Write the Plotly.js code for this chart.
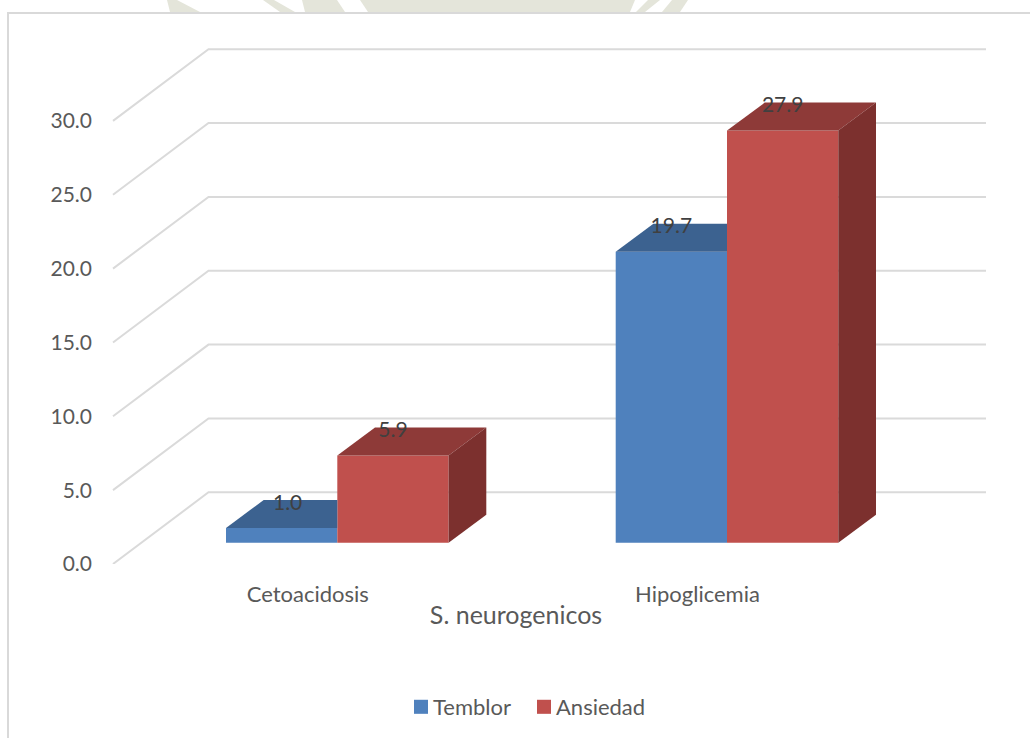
<!DOCTYPE html>
<html>
<head>
<meta charset="utf-8">
<script src="https://cdn.plot.ly/plotly-3.0.1.min.js"></script>
<style>html,body{margin:0;padding:0;background:#fff}</style>
</head>
<body>
<div id="chart" style="width:1030px;height:738px"></div>
<script>
// Survey results
const categories = ["Cetoacidosis", "Hipoglicemia"];
const temblor = [1.0, 19.7];
const ansiedad = [5.9, 27.9];
const yTicks = [0, 5, 10, 15, 20, 25, 30];

// Page geometry, in pixels
const W = 1030, H = 738;
const plotL = 46, plotR = 986, plotT = 40, plotB = 564;
const axisX = 113;
const pxPerValue = 14.77, pxPerCategory = 389.7, firstCategoryX = 337.3;

// Oblique projection of the box: wall depth and column depth, in axis units
const wallDX = 95.5 / pxPerCategory, wallDY = 71.7 / pxPerValue;
const barDX = 37.7 / pxPerCategory, barDY = 28 / pxPerValue;
const floorY = 21.3 / pxPerValue;
const barW = 111.3 / pxPerCategory;
const categoryLabelShift = -29.5 / pxPerCategory;
const labelDrop = 4.5 / pxPerValue;
const shortBarLabelShift = 6 / pxPerCategory;

const xLeft = (axisX - firstCategoryX) / pxPerCategory;
const xRight = (plotR - firstCategoryX) / pxPerCategory;
const idx = categories.map((_, i) => i);

// Front faces
const traces = [{
  type: "bar", name: "Temblor", x: idx, y: temblor, base: floorY,
  width: barW, offset: -barW, marker: {color: "#4f81bd", line: {width: 0}}
}, {
  type: "bar", name: "Ansiedad", x: idx, y: ansiedad, base: floorY,
  width: barW, offset: 0, marker: {color: "#c0504d", line: {width: 0}}
}];

function face(xs, ys, color) {
  traces.push({
    type: "scatter", mode: "lines", x: xs, y: ys, fill: "toself", fillcolor: color,
    line: {width: 0, color: color}, showlegend: false, hoverinfo: "skip"
  });
}
// Top and side faces; the left column's top stops at the right column's front
idx.forEach(i => {
  const top = temblor[i] + floorY, x0 = i - barW;
  face([x0, x0 + barDX, i, i], [top, top + barDY, top + barDY, top], "#3c6290");
});
idx.forEach(i => {
  const top = ansiedad[i] + floorY, x0 = i, x1 = i + barW;
  face([x0, x0 + barDX, x1 + barDX, x1], [top, top + barDY, top + barDY, top], "#8e3a38");
  face([x1, x1 + barDX, x1 + barDX, x1],
       [top, top + barDY, floorY + barDY, floorY], "#7c302e");
});

// Value labels sit on the top faces
const fmt = v => v.toFixed(1);
const labelY = v => v + floorY + barDY - labelDrop;
traces.push({
  type: "scatter", mode: "text",
  x: idx.map(i => i - barW / 2 + (temblor[i] < 5 ? shortBarLabelShift : 0))
     .concat(idx.map(i => i + barW / 2)),
  y: temblor.map(labelY).concat(ansiedad.map(labelY)),
  text: temblor.map(fmt).concat(ansiedad.map(fmt)),
  textposition: "middle center",
  textfont: {family: "Lato", size: 21, color: "#404040"},
  showlegend: false, hoverinfo: "skip", cliponaxis: false
});

// Receding wall grid lines sit behind the columns
const shapes = yTicks.map(t => ({
  type: "path", xref: "x", yref: "y", layer: "below",
  path: "M" + xLeft + "," + t + "L" + (xLeft + wallDX) + "," + (t + wallDY) +
        "L" + xRight + "," + (t + wallDY),
  line: {color: "#dadada", width: 2}
}));

// Page furniture drawn in paper space
const px = x => (x - plotL) / (plotR - plotL);
const py = y => (plotB - y) / (plotB - plotT);
const poly = pts => "M" + pts.map(p => px(p[0]) + "," + py(p[1])).join("L") + "Z";
const paperShape = (path, color) => ({
  type: "path", xref: "paper", yref: "paper", path: path, fillcolor: color,
  line: {width: 0}, layer: "below"
});
const seal = "#e4e5da";
[
  [[167,0],[177,0],[200,12],[170,12]],
  [[263,0],[274,0],[295,12],[280,12]],
  [[302,0],[337,0],[345,12],[305,12]],
  [[360,0],[598,0],[598,12],[368,12]],
  [[598,0],[635,0],[630,12],[598,12]],
  [[648,0],[660,0],[645,12],[636,12]],
  [[672,0],[688,0],[680,12],[662,12]]
].forEach(p => shapes.push(paperShape(poly(p), seal)));
shapes.push(paperShape(poly([[7,12],[1030,12],[1030,14],[7,14]]), "#d9d9d9"));
shapes.push(paperShape(poly([[7,12],[9,12],[9,738],[7,738]]), "#d9d9d9"));

const layout = {
  width: W, height: H,
  margin: {l: plotL, r: W - plotR, t: plotT, b: H - plotB, pad: 0, autoexpand: false},
  paper_bgcolor: "#ffffff", plot_bgcolor: "rgba(0,0,0,0)",
  font: {family: "Lato", color: "#595959", size: 20},
  barmode: "overlay",
  showlegend: true,
  legend: {
    orientation: "h", x: px(516), xanchor: "center", y: py(707), yanchor: "middle",
    font: {family: "Lato", size: 22, color: "#595959"}, bgcolor: "rgba(0,0,0,0)",
    entrywidth: 78, entrywidthmode: "pixels"
  },
  xaxis: {
    range: [(plotL - firstCategoryX) / pxPerCategory, xRight],
    tickmode: "array",
    tickvals: idx.map(i => i + categoryLabelShift),
    ticktext: categories,
    showgrid: false, zeroline: false, showline: false, ticks: "",
    ticklabelstandoff: 15,
    tickfont: {family: "Lato", size: 22, color: "#595959"},
    title: {text: "S. neurogenicos", standoff: 0, font: {family: "Lato", size: 25, color: "#595959"}},
    automargin: false
  },
  yaxis: {
    range: [0, (plotB - plotT) / pxPerValue],
    anchor: "free", position: px(axisX), side: "left",
    tickmode: "array", tickvals: yTicks, ticktext: yTicks.map(fmt),
    showgrid: false, zeroline: false, showline: false, ticks: "",
    ticklabelstandoff: 21,
    tickfont: {family: "Lato", size: 21, color: "#595959"},
    automargin: false
  },
  shapes: shapes
};
Plotly.newPlot("chart", traces, layout, {displayModeBar: false, staticPlot: true}).then(() => {
  // Legend swatches: slightly larger and closer to their text
  document.querySelectorAll("#chart .legend .legendpoints path").forEach(p => {
    p.setAttribute("transform", "translate(28,0) scale(1.17)");
  });
  // Entry widths are narrower than the last label, so let it overflow its box
  const box = document.querySelector("#chart .legend .scrollbox");
  if (box) box.removeAttribute("clip-path");
});
</script>
</body>
</html>
